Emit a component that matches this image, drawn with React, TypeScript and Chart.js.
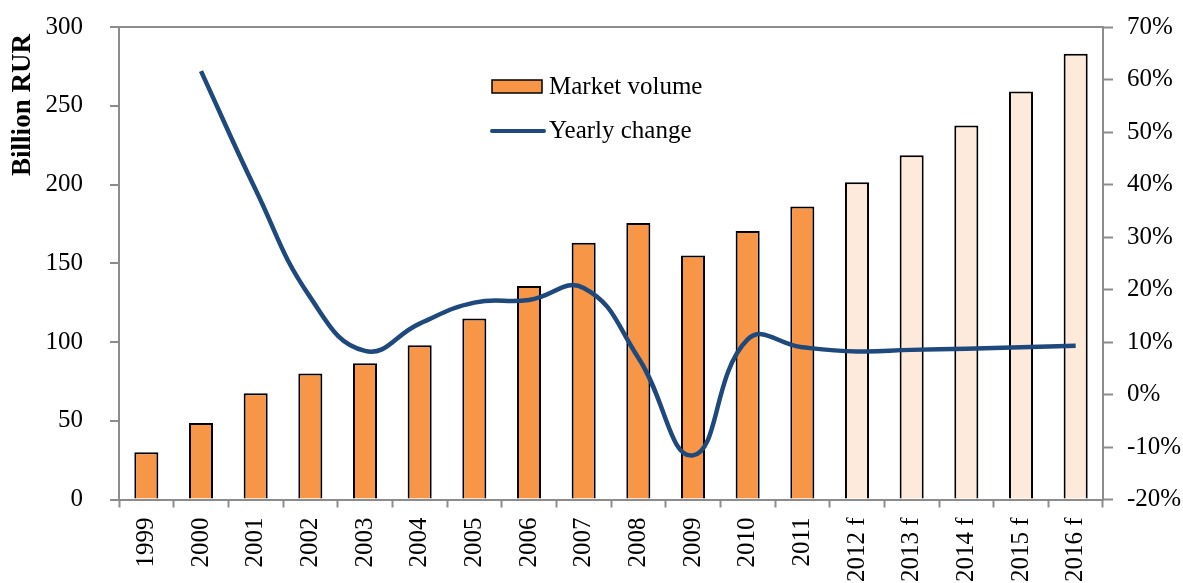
import React, { useEffect, useRef } from "react";
import { Chart, registerables } from "chart.js";

Chart.register(...registerables);

const categories = ["1999", "2000", "2001", "2002", "2003", "2004", "2005", "2006", "2007", "2008", "2009", "2010", "2011", "2012 f", "2013 f", "2014 f", "2015 f", "2016 f"];
const marketVolume = [30, 48.5, 67.5, 80, 86.5, 98, 115, 135.5, 163, 175.5, 155, 170.5, 186, 201.5, 218.5, 237.5, 259, 283];
const yearlyChange = [null, 61.6, 39, 18.5, 8.3, 13.5, 17.5, 18, 20.3, 7, -11.6, 10.5, 9, 8.2, 8.5, 8.7, 9, 9.3];
const isForecast = [false, false, false, false, false, false, false, false, false, false, false, false, false, true, true, true, true, true];
const leftTicks = [0, 50, 100, 150, 200, 250, 300];
const rightTicks = [-20, -10, 0, 10, 20, 30, 40, 50, 60, 70];
const yTitle = "Billion RUR";
const legendLabels = ["Market volume", "Yearly change"];

const ORANGE = "#F79646";
const PEACH = "#FDEADA";
const NAVY = "#1F497D";
const AXIS = "#8C8C8C";
const FONT = "'Liberation Serif', 'Times New Roman', serif";

const legendPlugin = {
  id: "customLegend",
  afterDraw(chart: any) {
    const ctx = chart.ctx;
    ctx.save();
    // legend
    ctx.fillStyle = ORANGE;
    ctx.strokeStyle = "#000";
    ctx.lineWidth = 1.5;
    ctx.fillRect(492, 80, 50, 13);
    ctx.strokeRect(492, 80, 50, 13);
    ctx.strokeStyle = NAVY;
    ctx.lineWidth = 4;
    ctx.lineCap = "round";
    ctx.beginPath();
    ctx.moveTo(492, 131);
    ctx.lineTo(544, 131);
    ctx.stroke();
    ctx.fillStyle = "#000";
    ctx.font = `25px ${FONT}`;
    ctx.textBaseline = "middle";
    ctx.textAlign = "left";
    ctx.fillText(legendLabels[0], 549, 87);
    ctx.fillText(legendLabels[1], 549, 131);
    // y-axis title
    ctx.translate(23, 105);
    ctx.rotate(-Math.PI / 2);
    ctx.font = `bold 27px ${FONT}`;
    ctx.textAlign = "center";
    ctx.textBaseline = "middle";
    ctx.fillText(yTitle, 0, 0);
    ctx.restore();
  },
};

function fixVPad(scale: any, w: number) {
  scale.width = w;
  scale.paddingTop = 27;
  scale.paddingBottom = 0;
}

export default function App() {
  const ref = useRef<HTMLCanvasElement>(null);

  useEffect(() => {
    document.body.style.margin = "0";
    const canvas = ref.current!;
    const chart = new Chart(canvas, {
      type: "bar",
      data: {
        labels: categories,
        datasets: [
          {
            type: "line",
            label: legendLabels[1],
            data: yearlyChange,
            yAxisID: "y1",
            borderColor: NAVY,
            borderWidth: 4.5,
            pointRadius: 0,
            tension: 0.45,
            spanGaps: false,
            order: 0,
          } as any,
          {
            type: "bar",
            label: legendLabels[0],
            data: marketVolume,
            yAxisID: "y",
            backgroundColor: isForecast.map((f) => (f ? PEACH : ORANGE)),
            borderColor: "#000",
            borderWidth: 2,
            barPercentage: 0.44,
            categoryPercentage: 1,
            order: 1,
          },
        ],
      },
      options: {
        animation: false,
        responsive: false,
        maintainAspectRatio: false,
        layout: { padding: { top: 0, left: 0, right: 0, bottom: 0 } },
        plugins: {
          legend: { display: false },
          tooltip: { enabled: false },
        },
        scales: {
          x: {
            offset: true,
            grid: {
              offset: true,
              drawOnChartArea: false,
              drawTicks: true,
              tickLength: 8,
              tickColor: AXIS,
              tickWidth: 2,
            },
            border: { color: AXIS, width: 2 },
            ticks: {
              color: "#000",
              font: { family: FONT, size: 25 },
              maxRotation: 90,
              minRotation: 90,
              padding: 10,
              autoSkip: false,
            },
            afterFit(scale: any) {
              scale.height = 83.5;
              scale.paddingLeft = 0;
              scale.paddingRight = 0;
            },
          },
          y: {
            position: "left",
            min: 0,
            max: 300,
            afterBuildTicks(scale: any) {
              scale.ticks = leftTicks.map((v) => ({ value: v }));
            },
            grid: {
              color: (c: any) => (c.tick && c.tick.value === 300 ? AXIS : "rgba(0,0,0,0)"),
              lineWidth: 2,
              drawTicks: true,
              tickLength: 9,
              tickColor: AXIS,
              tickWidth: 2,
            },
            border: { color: AXIS, width: 2 },
            ticks: {
              color: "#000",
              font: { family: FONT, size: 25 },
              padding: 27,
            },
            afterFit(scale: any) {
              fixVPad(scale, 119);
            },
          },
          y1: {
            position: "right",
            min: -20,
            max: 70,
            afterBuildTicks(scale: any) {
              scale.ticks = rightTicks.map((v) => ({ value: v }));
            },
            grid: {
              drawOnChartArea: false,
              drawTicks: true,
              tickLength: 10,
              tickColor: AXIS,
              tickWidth: 2,
            },
            border: { color: AXIS, width: 2 },
            ticks: {
              color: "#000",
              font: { family: FONT, size: 25 },
              padding: 14,
              callback: (v: any) => `${v}%`,
            },
            afterFit(scale: any) {
              fixVPad(scale, 80);
            },
          },
        },
      } as any,
      plugins: [legendPlugin],
    });
    return () => chart.destroy();
  }, []);

  return (
    <div style={{ position: "absolute", left: 0, top: 0, width: 1183, height: 583, background: "#fff" }}>
      <canvas ref={ref} width={1183} height={583} style={{ width: 1183, height: 583, display: "block" }} />
    </div>
  );
}
